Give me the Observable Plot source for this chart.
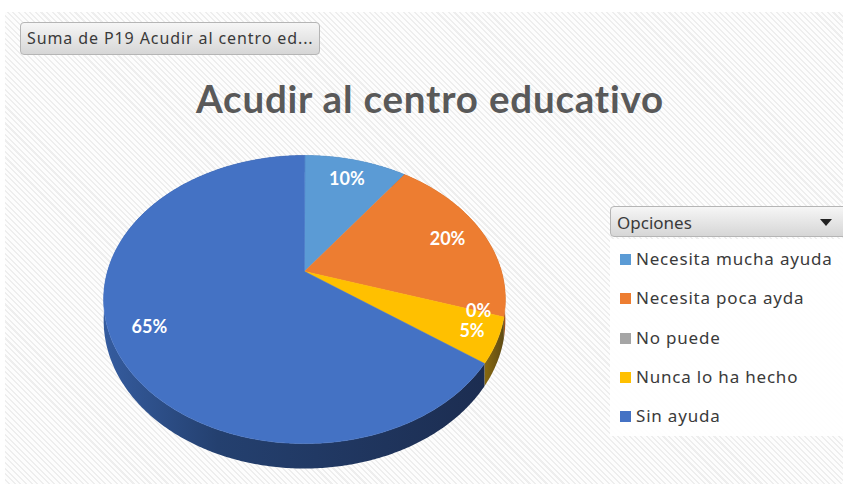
<!DOCTYPE html>
<html><head><meta charset="utf-8">
<script src="https://cdn.jsdelivr.net/npm/d3@7"></script>
<script src="https://cdn.jsdelivr.net/npm/@observablehq/plot@0.6"></script>
<style>
html,body{margin:0;padding:0;background:#fff;}
#wrap{position:relative;width:843px;height:484px;overflow:hidden;background:#fff;}
#bg{position:absolute;left:5px;top:12px;width:838px;height:472px;
 background:repeating-linear-gradient(45deg,#fdfdfd 0px,#fdfdfd 2.5px,#eeeeee 2.5px,#eeeeee 4px);}
#chart{position:absolute;left:0;top:0;}
#filter{position:absolute;left:20px;top:22px;width:292px;height:31px;border:1px solid #b5b5b5;border-radius:4px;
 background:linear-gradient(#f6f6f6,#d6d6d6);font:16px "Noto Sans",sans-serif;letter-spacing:0.9px;color:#3a3a3a;line-height:31px;
 padding-left:6px;box-sizing:content-box;white-space:nowrap;overflow:hidden;}
#title{position:absolute;left:0;width:860px;top:79px;text-align:center;font:bold 38.5px Lato,sans-serif;letter-spacing:0.8px;line-height:38px;color:#595959;}
#lhead{position:absolute;left:610px;top:206px;width:240px;height:31px;border:1px solid #b5b5b5;border-radius:4px;
 background:linear-gradient(#f6f6f6,#d6d6d6);font:17px "Noto Sans",sans-serif;color:#3a3a3a;line-height:31px;padding-left:6px;box-sizing:border-box;}
#tri{position:absolute;left:820px;top:219px;width:0;height:0;border-left:6px solid transparent;border-right:6px solid transparent;border-top:7px solid #222;}
#litems{position:absolute;left:610px;top:239px;width:233px;height:197px;background:rgba(255,255,255,0.9);}
.li{position:absolute;left:10px;font:17px "Noto Sans",sans-serif;letter-spacing:0.8px;color:#3a3a3a;white-space:nowrap;line-height:20px;}
.sw{display:inline-block;width:11px;height:11px;margin-right:5px;vertical-align:0px;}
</style>
</head><body>
<div id="wrap">
 <div id="bg"></div>
 <div id="chart"></div>
 <div id="filter">Suma de P19 Acudir al centro ed...</div>
 <div id="title">Acudir al centro educativo</div>
 <div id="lhead">Opciones</div><div id="tri"></div>
 <div id="litems"></div>
</div>
<script>
const categories = ["Necesita mucha ayuda", "Necesita poca ayda", "No puede", "Nunca lo ha hecho", "Sin ayuda"];
const counts = [2, 4, 0, 1, 13];
const pctLabels = ["10%", "20%", "0%", "5%", "65%"];
const topColors = ["#5B9BD5", "#ED7D31", "#A5A5A5", "#FFC000", "#4472C4"];
const sideColors = ["#365f8a", "#a0521c", "#6e6e6e", "url(#sideYellow)", "url(#sideBlue)"];

const D = 5.14;      // perspective distance (in radii)
const H = 0.145;     // thickness (in y units)
const arcs = d3.pie().sort(null).value(d => d)(counts);

function proj(a, r, depth = 0) {
  const u = r * Math.sin(a), v = -r * Math.cos(a);
  const s = D / (D - v);
  return {x: u * s, y: v * s + depth * s};
}
function arcPts(a0, a1, r, depth) {
  const n = Math.max(2, Math.ceil((a1 - a0) / 0.01));
  const pts = [];
  for (let k = 0; k <= n; k++) pts.push(proj(a0 + (a1 - a0) * k / n, r, depth));
  return pts;
}
const topPoly = a => [{x: 0, y: 0}, ...arcPts(a.startAngle, a.endAngle, 1, 0)];
const sidePoly = a => [...arcPts(a.startAngle, a.endAngle, 1, 0), ...arcPts(a.startAngle, a.endAngle, 1, H).reverse()];
const shadowPoly = arcPts(0, 2 * Math.PI, 1.01, H + 0.02);

const labelPts = arcs.map((a, i) => {
  const mid = (a.startAngle + a.endAngle) / 2;
  const share = (a.endAngle - a.startAngle) / (2 * Math.PI);
  const r = share < 0.08 ? 0.88 : share > 0.5 ? 0.82 : 0.8;
  const p = proj(mid, r, 0);
  return {x: p.x, y: p.y, text: pctLabels[i]};
});

const marks = [];
marks.push(Plot.line(shadowPoly, {x: "x", y: "y", fill: "#000", fillOpacity: 0.28, stroke: "none", curve: "linear-closed", ariaLabel: "shadow"}));
arcs.forEach((a, i) => {
  if (a.endAngle > a.startAngle)
    marks.push(Plot.line(sidePoly(a), {x: "x", y: "y", fill: sideColors[i], stroke: "none", curve: "linear-closed"}));
});
arcs.forEach((a, i) => {
  if (a.endAngle > a.startAngle)
    marks.push(Plot.line(topPoly(a), {x: "x", y: "y", fill: topColors[i], stroke: topColors[i], strokeWidth: 0.6, curve: "linear-closed"}));
});
marks.push(Plot.text(labelPts, {x: "x", y: "y", text: "text", fill: "white", fontWeight: "bold", fontSize: 18, fontFamily: "Lato, sans-serif"}));

const chart = Plot.plot({
  width: 843, height: 484,
  x: {domain: [-1, 1], range: [107, 501], axis: null},
  y: {domain: [-1, 1], range: [132.4, 409.6], axis: null},
  style: {background: "transparent", overflow: "visible"},
  marks
});
const ns = "http://www.w3.org/2000/svg";
const defs = document.createElementNS(ns, "defs");
defs.innerHTML = `
<linearGradient id="sideBlue" x1="0" x2="1" y1="0" y2="0">
  <stop offset="0" stop-color="#355c9f"/><stop offset="0.3" stop-color="#24406f"/><stop offset="1" stop-color="#1c2d51"/>
</linearGradient>
<linearGradient id="sideYellow" x1="0" x2="1" y1="0" y2="0">
  <stop offset="0" stop-color="#8a6a10"/><stop offset="1" stop-color="#5e4a14"/>
</linearGradient>`;
chart.insertBefore(defs, chart.firstChild);
const sh = chart.querySelector('[aria-label="shadow"]');
if (sh) sh.style.filter = "blur(3px)";
document.getElementById("chart").appendChild(chart);

const li = document.getElementById("litems");
categories.forEach((c, i) => {
  const d = document.createElement("div");
  d.className = "li";
  d.style.top = (10 + i * 39.3) + "px";
  d.innerHTML = `<span class="sw" style="background:${topColors[i]}"></span>${c}`;
  li.appendChild(d);
});
</script>
</body></html>
